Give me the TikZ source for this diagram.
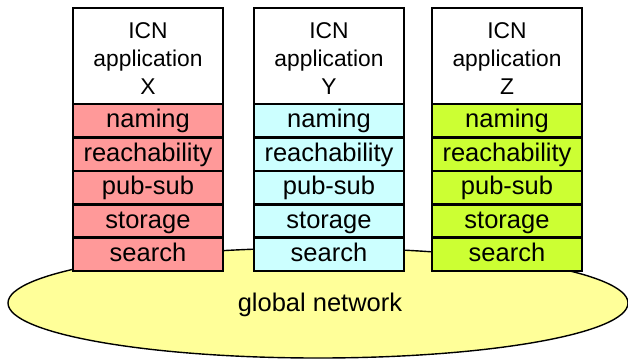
\documentclass[tikz,border=0pt]{standalone}
\usepackage{fontspec}
\setmainfont{Liberation Sans}
\usetikzlibrary{shapes.geometric}
\definecolor{cred}{HTML}{FF9999}
\definecolor{ccyan}{HTML}{CCFFFF}
\definecolor{clime}{HTML}{CCFF33}
\definecolor{cyel}{HTML}{FFFF99}
\begin{document}
\begin{tikzpicture}[x=1pt,y=-1pt,
  appbox/.style={draw=black,line width=2.6pt,fill=white,minimum width=150pt,minimum height=96pt,
    inner sep=0pt},
  apptext/.style={inner sep=0pt,align=center,font=\fontsize{22.8}{28}\selectfont},
  layerbox/.style={draw=black,line width=2.6pt,minimum width=150pt,minimum height=33.4pt,
    inner sep=0pt,text height=18.5pt,text depth=4pt,font=\fontsize{25.5}{30}\selectfont},
  net/.style={ellipse,draw=black,line width=1.4pt,fill=cyel,minimum width=620pt,minimum height=110pt,
    inner sep=0pt}]
\useasboundingbox (0,0) rectangle (628,360);
\node[net] (net) at (318,303) {};
\node[font=\fontsize{25.5}{30}\selectfont,inner sep=0pt] (netlabel) at (320,305) {global network};
\foreach \n/\x/\c/\l in {x/148/cred/X, y/329/ccyan/Y, z/507/clime/Z}{
  \node[appbox] (app\n) at (\x,56) {};
  \node[apptext] (apptext\n) at (\x,58.5) {ICN\\application\\\l};
  \node[layerbox,fill=\c] (naming\n) at (\x,120.7) {naming};
  \node[layerbox,fill=\c] (reach\n) at (\x,154.1) {reachability};
  \node[layerbox,fill=\c] (pubsub\n) at (\x,187.5) {pub-sub};
  \node[layerbox,fill=\c] (storage\n) at (\x,220.9) {storage};
  \node[layerbox,fill=\c] (search\n) at (\x,254.3) {search};
}
\end{tikzpicture}
\end{document}
